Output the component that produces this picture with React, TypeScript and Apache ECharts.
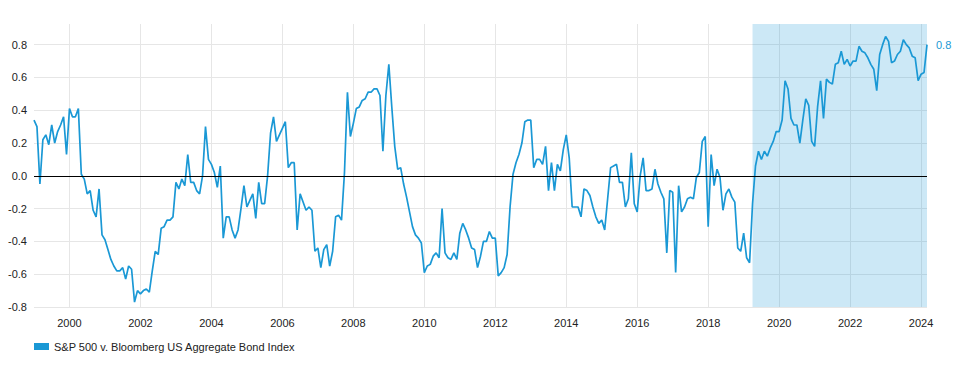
import React, { useEffect, useRef } from "react";
import * as echarts from "echarts";

const START_YEAR = 1999;
const SERIES_NAME = "S&P 500 v. Bloomberg US Aggregate Bond Index";

const y1999 = [0.34, 0.30, -0.05, 0.22, 0.25, 0.19, 0.31, 0.20, 0.27, 0.31, 0.36, 0.13];
const y2000 = [0.41, 0.36, 0.36, 0.41, 0.01, -0.02, -0.11, -0.09, -0.21, -0.25, -0.08, -0.36];
const y2001 = [-0.39, -0.45, -0.51, -0.55, -0.58, -0.58, -0.56, -0.63, -0.55, -0.57, -0.77, -0.70];
const y2002 = [-0.72, -0.70, -0.69, -0.71, -0.58, -0.46, -0.48, -0.32, -0.31, -0.27, -0.27, -0.25];
const y2003 = [-0.04, -0.08, -0.02, -0.06, 0.13, -0.04, -0.04, -0.09, -0.11, 0.00, 0.30, 0.10];
const y2004 = [0.07, 0.02, -0.07, 0.06, -0.38, -0.25, -0.25, -0.33, -0.38, -0.33, -0.20, -0.06];
const y2005 = [-0.19, -0.15, -0.11, -0.26, -0.04, -0.17, -0.17, 0.00, 0.26, 0.36, 0.21, 0.25];
const y2006 = [0.29, 0.33, 0.05, 0.08, 0.08, -0.33, -0.11, -0.16, -0.21, -0.19, -0.21, -0.46];
const y2007 = [-0.44, -0.56, -0.45, -0.42, -0.55, -0.46, -0.25, -0.24, -0.27, 0.02, 0.51, 0.24];
const y2008 = [0.32, 0.41, 0.42, 0.46, 0.47, 0.51, 0.51, 0.53, 0.53, 0.49, 0.15, 0.49];
const y2009 = [0.68, 0.42, 0.18, 0.04, 0.05, -0.05, -0.13, -0.22, -0.31, -0.36, -0.38, -0.41];
const y2010 = [-0.59, -0.55, -0.54, -0.49, -0.47, -0.50, -0.20, -0.47, -0.50, -0.51, -0.47, -0.51];
const y2011 = [-0.35, -0.29, -0.33, -0.38, -0.44, -0.45, -0.56, -0.49, -0.40, -0.40, -0.34, -0.38];
const y2012 = [-0.38, -0.61, -0.59, -0.56, -0.48, -0.19, 0.01, 0.08, 0.13, 0.20, 0.33, 0.34];
const y2013 = [0.34, 0.05, 0.10, 0.10, 0.07, 0.18, -0.09, 0.08, -0.09, 0.07, 0.03, 0.16];
const y2014 = [0.25, 0.11, -0.19, -0.19, -0.19, -0.25, -0.08, -0.09, -0.12, -0.19, -0.25, -0.29];
const y2015 = [-0.27, -0.33, -0.14, 0.05, 0.06, 0.07, -0.04, -0.04, -0.19, -0.14, 0.14, -0.17];
const y2016 = [-0.22, 0.00, 0.11, -0.09, -0.09, -0.08, 0.04, -0.05, -0.10, -0.14, -0.47, -0.09];
const y2017 = [-0.10, -0.59, -0.06, -0.22, -0.19, -0.14, -0.13, -0.14, -0.01, 0.02, 0.21, 0.24];
const y2018 = [-0.31, 0.13, -0.06, 0.04, -0.01, -0.21, -0.11, -0.08, -0.13, -0.16, -0.44, -0.46];
const y2019 = [-0.35, -0.50, -0.53, -0.17, 0.06, 0.15, 0.10, 0.15, 0.12, 0.17, 0.21, 0.27];
const y2020 = [0.27, 0.34, 0.58, 0.53, 0.35, 0.31, 0.31, 0.20, 0.34, 0.47, 0.43, 0.21];
const y2021 = [0.18, 0.42, 0.58, 0.35, 0.59, 0.57, 0.56, 0.68, 0.69, 0.76, 0.68, 0.71];
const y2022 = [0.67, 0.70, 0.70, 0.79, 0.76, 0.75, 0.72, 0.68, 0.65, 0.52, 0.74, 0.80];
const y2023 = [0.85, 0.82, 0.69, 0.70, 0.74, 0.76, 0.83, 0.80, 0.78, 0.73, 0.72, 0.58];
const y2024 = [0.62, 0.63, 0.80];

const yearlyValues = [
  y1999, y2000, y2001, y2002, y2003, y2004, y2005, y2006, y2007, y2008, y2009, y2010, y2011,
  y2012, y2013, y2014, y2015, y2016, y2017, y2018, y2019, y2020, y2021, y2022, y2023, y2024,
];
const values: number[] = yearlyValues.flat();
const months: string[] = values.map(
  (_, i) => `${START_YEAR + Math.floor(i / 12)}-${String((i % 12) + 1).padStart(2, "0")}`
);
const SHADE_START = "2019-04";

const Y_MIN = -0.8;
const Y_MAX = 0.926; // plot area extends a little above the top 0.8 tick
const Y_STEP = 0.2;

const LINE_COLOR = "#1a98d5";
const FONT = "'Liberation Sans', Arial, sans-serif";

const isEvenYearStart = (index: number) => {
  const m = months[index];
  if (!m) return false;
  const yr = parseInt(m.slice(0, 4), 10);
  return m.endsWith("-01") && yr % 2 === 0;
};

export default function App() {
  const ref = useRef<HTMLDivElement>(null);
  useEffect(() => {
    if (!ref.current) return;
    const chart = echarts.init(ref.current, null, { renderer: "svg" });
    chart.setOption({
      animation: false,
      textStyle: { fontFamily: FONT },
      grid: { left: 34, right: 41, top: 24, bottom: 70, containLabel: false },
      legend: {
        show: true,
        left: 34,
        top: 341,
        padding: 0,
        icon: "rect",
        itemWidth: 15,
        itemHeight: 7,
        itemGap: 5,
        textStyle: { fontSize: 11, color: "#222", fontFamily: FONT },
        data: [{ name: SERIES_NAME, itemStyle: { color: LINE_COLOR } }],
      },
      xAxis: {
        type: "category",
        data: months,
        boundaryGap: false,
        axisLine: { show: false },
        axisTick: { show: false },
        axisLabel: {
          interval: (index: number) => isEvenYearStart(index),
          formatter: (v: string) => v.slice(0, 4),
          color: "#222",
          fontSize: 11,
          margin: 10,
          fontFamily: FONT,
        },
        splitLine: {
          show: true,
          interval: (index: number) => isEvenYearStart(index),
          lineStyle: { color: "#e6e6e6", width: 1 },
        },
      },
      yAxis: {
        type: "value",
        min: Y_MIN,
        max: Y_MAX,
        interval: Y_STEP,
        axisLine: { show: false },
        axisTick: { show: false },
        axisLabel: {
          formatter: (v: number) => v.toFixed(1),
          color: "#222",
          fontSize: 11,
          margin: 7,
          showMaxLabel: false,
          fontFamily: FONT,
        },
        splitLine: {
          show: true,
          showMaxLine: false,
          lineStyle: { color: "#e6e6e6", width: 1 },
        },
      },
      series: [
        {
          name: SERIES_NAME,
          type: "line",
          data: values,
          showSymbol: false,
          symbol: "none",
          lineStyle: { color: LINE_COLOR, width: 1.7 },
          itemStyle: { color: LINE_COLOR },
          endLabel: {
            show: true,
            formatter: (p: any) => Number(p.value).toFixed(1),
            color: LINE_COLOR,
            fontSize: 11,
            distance: 9,
            fontFamily: FONT,
          },
          markArea: {
            silent: true,
            itemStyle: { color: "rgba(20,150,215,0.217)" },
            data: [[{ xAxis: SHADE_START }, { xAxis: months[months.length - 1] }]],
          },
          markLine: {
            silent: true,
            symbol: ["none", "none"],
            label: { show: false },
            lineStyle: { color: "#000", width: 1, type: "solid" },
            data: [{ yAxis: 0 }],
          },
        },
      ],
    });
    return () => chart.dispose();
  }, []);
  return (
    <div
      ref={ref}
      style={{ position: "fixed", left: 0, top: 0, width: 968, height: 377, background: "#fff" }}
    />
  );
}
